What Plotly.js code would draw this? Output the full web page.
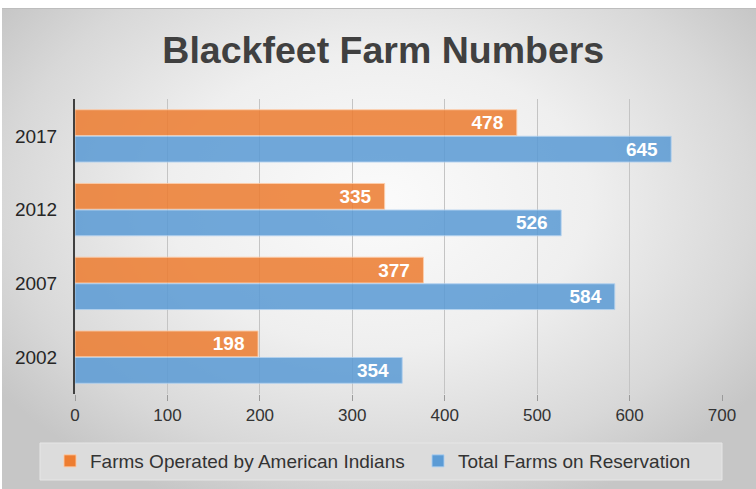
<!DOCTYPE html>
<html>
<head>
<meta charset="utf-8">
<script src="https://cdn.plot.ly/plotly-3.0.1.min.js"></script>
<style>
  html, body { margin: 0; padding: 0; background: #ffffff; }
  #wrap { position: relative; width: 756px; height: 489px; overflow: hidden; background: #ffffff; }
  #bg { position: absolute; left: 2px; top: 8px; width: 754px; height: 481px;
        background: radial-gradient(ellipse 62% 68% at 50% 40%, #fbfbfb 0%, #efefef 45%, #d8d8d8 80%, #c6c6c6 100%);
        border-top: 1px solid #bdbdbd; box-sizing: border-box; }
  #chart { position: absolute; left: 0; top: 0; width: 756px; height: 489px; }
</style>
</head>
<body>
<div id="wrap">
  <div id="bg"></div>
  <div id="chart"></div>
</div>
<script>
const years = ['2017', '2012', '2007', '2002'];
const americanIndianFarms = [478, 335, 377, 198];
const totalFarms = [645, 526, 584, 354];
const seriesNames = ['Farms Operated by American Indians', 'Total Farms on Reservation'];
const xTicks = [0, 100, 200, 300, 400, 500, 600, 700];

const sans = '"Liberation Sans", Arial, sans-serif';

const labelFont = { family: sans, size: 19, color: '#ffffff', weight: 'bold' };

const traces = [
  {
    type: 'bar', orientation: 'h', name: seriesNames[0], legend: 'legend',
    y: years, x: americanIndianFarms,
    marker: { color: '#ED7D31', opacity: 0.86, line: { color: 'rgba(255,200,160,0.9)', width: 1 } },
    text: americanIndianFarms.map(v => v + '\u00a0\u00a0'),
    textposition: 'inside', insidetextanchor: 'end', constraintext: 'none',
    insidetextfont: labelFont, hoverinfo: 'x+name'
  },
  {
    type: 'bar', orientation: 'h', name: seriesNames[1], legend: 'legend2',
    y: years, x: totalFarms,
    marker: { color: '#5B9BD5', opacity: 0.86, line: { color: 'rgba(170,205,240,0.9)', width: 1 } },
    text: totalFarms.map(v => v + '\u00a0\u00a0'),
    textposition: 'inside', insidetextanchor: 'end', constraintext: 'none',
    insidetextfont: labelFont, hoverinfo: 'x+name'
  }
];

const legendCommon = {
  orientation: 'h', xref: 'container', xanchor: 'left',
  yref: 'container', y: 1 - 461 / 489, yanchor: 'middle',
  font: { family: sans, size: 19, color: '#333333' },
  bgcolor: 'rgba(0,0,0,0)', itemwidth: 30
};

const layout = {
  width: 756, height: 489,
  paper_bgcolor: 'rgba(0,0,0,0)', plot_bgcolor: 'rgba(0,0,0,0)',
  margin: { l: 75, r: 34, t: 99, b: 95, autoexpand: false },
  title: {
    text: '<b>Blackfeet Farm Numbers</b>',
    font: { family: sans, size: 37.5, color: '#404040' },
    x: 0.507, xanchor: 'center', y: 1 - 50 / 489, yanchor: 'middle', yref: 'container'
  },
  barmode: 'group', bargap: 0.28, bargroupgap: 0.03,
  showlegend: true,
  legend: Object.assign({}, legendCommon, { x: 50 / 756 }),
  legend2: Object.assign({}, legendCommon, { x: 418 / 756 }),
  xaxis: {
    range: [0, 700], tickvals: xTicks, ticktext: xTicks.map(String),
    showgrid: true, gridcolor: '#c4c4c4', gridwidth: 1, zeroline: false,
    ticks: 'outside', ticklen: 6, tickcolor: '#9a9a9a', tickwidth: 1,
    ticklabelstandoff: 0,
    tickfont: { family: sans, size: 17, color: '#333333' },
    fixedrange: true, showline: false
  },
  yaxis: {
    type: 'category', categoryorder: 'array', categoryarray: years, autorange: 'reversed',
    showline: true, linecolor: '#404040', linewidth: 2,
    ticks: '', ticklabelstandoff: 12,
    tickfont: { family: sans, size: 19, color: '#262626' },
    showgrid: false, zeroline: false, fixedrange: true
  },
  shapes: [
    { type: 'rect', xref: 'paper', yref: 'paper', layer: 'below',
      x0: -35 / 647, x1: 1.0, y0: -(480 - 394) / 295, y1: -(443 - 394) / 295,
      fillcolor: '#dcdcdc', line: { color: '#e6e6e6', width: 1 } }
  ]
};

Plotly.newPlot('chart', traces, layout, { displayModeBar: false, staticPlot: true });
</script>
</body>
</html>
